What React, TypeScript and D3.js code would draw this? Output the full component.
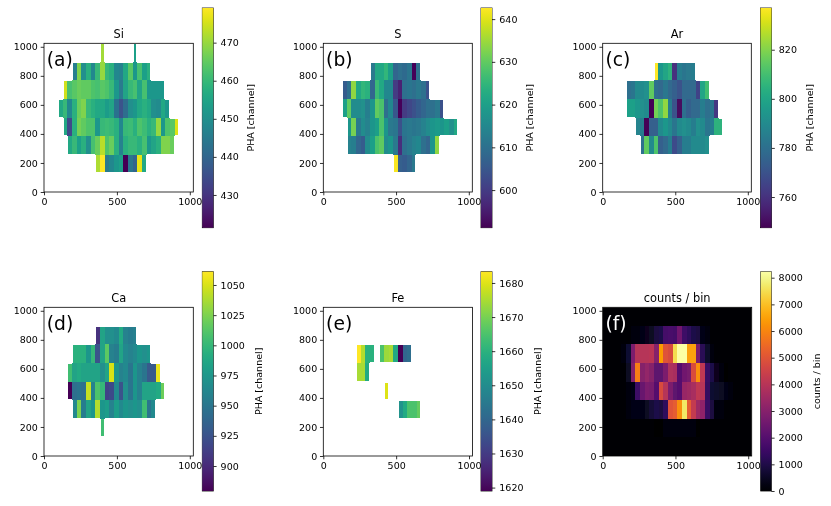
import { useEffect, useRef } from "react";
import * as d3 from "d3";

// each row of the detector map: y = bottom of the 128 bin, x = left of the first 32 bin
type Row = { y: number; x: number; v: (number | null)[] };

const siRows: Row[] = [
  { y: 896, x: 384, v: [471, null, null, null, null, null, null, 454] },
  { y: 768, x: 192, v: [446, 468, 450, 458, 448, 460, 470, 460, 458, 448, 447, 456, 464, 452, 462, 454, 458] },
  { y: 640, x: 128, v: [475, 462, 464, 466, 465, 465, 463, 462, 464, 463, 460, 452, 445, 455, 460, 462, 455, 462, 452, 452, 452, 452] },
  { y: 512, x: 96, v: [456, 460, 448, 458, 466, 468, 460, 458, 456, 456, 453, 455, 443, 436, 442, 450, 452, 456, 458, 456, 450, 449, 456, 452] },
  { y: 384, x: 128, v: [456, 434, 458, 467, 465, 463, 463, 452, 460, 461, 460, 458, 448, 460, 461, 458, 463, 461, 458, 460, 470, 452, 463, 464, 476] },
  { y: 256, x: 160, v: [456, 460, 454, 458, 450, 462, 466, 473, 463, 466, 458, 447, 458, 460, 460, 458, 462, 452, 455, 458, 468, 468, 466] },
  { y: 128, x: 352, v: [472, 479, 445, 448, 452, 454, 421, 444, 440, 477, 456] },
];

const sRows: Row[] = [
  { y: 768, x: 320, v: [612, 622, 622, 625, 620, 608, 610, 609, 611, 592, 610] },
  { y: 640, x: 128, v: [606, 610, 634, 622, 625, 624, 608, 626, 622, 615, 615, 600, 596, 610, 611, 610, 612, 610, 604] },
  { y: 512, x: 128, v: [620, 630, 616, 616, 617, 613, 618, 630, 628, 610, 615, 605, 592, 600, 602, 604, 606, 608, 610, 610, 612, 604] },
  { y: 384, x: 160, v: [618, 632, 612, 616, 614, 618, 620, 628, 618, 612, 611, 604, 611, 612, 611, 612, 614, 616, 618, 619, 618, 620, 617, 622] },
  { y: 256, x: 160, v: [614, 613, 608, 606, 616, 620, 628, 630, 616, 618, 612, 598, 610, 612, 614, 615, 610, 608, 618, 634] },
  { y: 128, x: 480, v: [642, 607, 606, 608, 612] },
];

const arRows: Row[] = [
  { y: 768, x: 352, v: [837, 795, 800, 805, 760, 785, 782, 784, 785] },
  { y: 640, x: 160, v: [780, 782, 790, 790, 792, 815, 780, 778, 783, 778, 775, 770, 778, 778, 778, 765, 800, 810] },
  { y: 512, x: 160, v: [798, 798, 795, 792, 790, 748, 818, 812, 822, 785, 770, 750, 780, 775, 778, 778, 785, 780, 782, 762] },
  { y: 384, x: 224, v: [788, 785, 748, 775, 775, 790, 795, 790, 782, 790, 792, 790, 785, 792, 790, 782, 785, 805, 805] },
  { y: 256, x: 256, v: [780, 815, 790, 812, 775, 778, 785, 768, 775, 785, 785, 790, 790, 790, 792] },
];

const caRows: Row[] = [
  { y: 768, x: 352, v: [905, 985, 970, 970, 965, 990, 960, 955, 958] },
  { y: 640, x: 192, v: [995, 995, 995, 975, 1000, 925, 985, 1015, 960, 955, 985, 965, 960, 965, 975, 970, 975] },
  { y: 512, x: 160, v: [1005, 985, 990, 985, 985, 985, 985, 970, 985, 1050, 975, 960, 965, 950, 975, 960, 950, 930, 930, 1055] },
  { y: 384, x: 160, v: [880, 945, 950, 945, 1045, 960, 1010, 1000, 915, 920, 965, 925, 970, 950, 975, 960, 985, 985, 985, 990, 1020] },
  { y: 256, x: 192, v: [965, 1025, 955, 985, 975, 1040, 975, 980, 960, 980, 965, 975, 970, 975, 970, 1005, 950, 965] },
  { y: 128, x: 384, v: [1005] },
];

const feRows: Row[] = [
  { y: 640, x: 224, v: [1684, 1676, 1660, 1660, null, 1665, 1674, 1675, 1658, 1619, 1640, 1642] },
  { y: 512, x: 224, v: [1675, 1675, 1658] },
  { y: 384, x: 416, v: [1680] },
  { y: 256, x: 512, v: [1652, 1658, 1665, 1665, 1668] },
];

const countRows: Row[] = [
  { y: 768, x: 192, v: [100, 200, 300, 400, 500, 900, 1000, 1700, 1800, 1700, 2600, 1600, 1300, 1000, 900, 300, 150] },
  { y: 640, x: 128, v: [200, 700, 2800, 4000, 4000, 4000, 4100, 3000, 6400, 5000, 4800, 7500, 8200, 8200, 6500, 6500, 2800, 1200, 600, 150] },
  { y: 512, x: 160, v: [500, 3000, 5900, 3000, 3300, 3000, 2200, 2200, 2800, 3800, 3700, 2000, 2600, 2700, 4800, 6200, 4200, 1500, 1000, 400, 150, 50] },
  { y: 384, x: 160, v: [150, 300, 1600, 2400, 2800, 2700, 2000, 4800, 4000, 2800, 2200, 2000, 3400, 3500, 3700, 4200, 4000, 1400, 700, 600, 500, 300, 100] },
  { y: 256, x: 160, v: [100, 300, 300, 300, 500, 800, 1000, 900, 1300, 5000, 5200, 6200, 7700, 5200, 4300, 3500, 3200, 1500, 900, 200, 100] },
  { y: 128, x: 352, v: [50, 80, 100, 120, 150, 200, 200, 150, 120, 80] },
];

const xTicks = [0, 500, 1000];
const yTicks = [0, 200, 400, 600, 800, 1000];
const BIN_X = 32;
const BIN_Y = 128;

const panels = [
  { tag: "(a)", title: "Si", rows: siRows, cmap: d3.interpolateViridis, domain: [421.4, 479.1], ticks: [430, 440, 450, 460, 470], cbLabel: "PHA [channel]", left: 44, right: 193.3, top: 43.3, bottom: 192, cbLeft: 202.3, cbRight: 213.3, cbTop: 8, cbBottom: 227.7, tagColor: "#000" },
  { tag: "(b)", title: "S", rows: sRows, cmap: d3.interpolateViridis, domain: [591.2, 642.6], ticks: [600, 610, 620, 630, 640], cbLabel: "PHA [channel]", left: 323.3, right: 472.3, top: 43.3, bottom: 192, cbLeft: 481, cbRight: 492, cbTop: 8, cbBottom: 227.7, tagColor: "#000" },
  { tag: "(c)", title: "Ar", rows: arRows, cmap: d3.interpolateViridis, domain: [747.5, 837], ticks: [760, 780, 800, 820], cbLabel: "PHA [channel]", left: 602.7, right: 751.3, top: 43.3, bottom: 192, cbLeft: 760.5, cbRight: 771.5, cbTop: 8, cbBottom: 227.7, tagColor: "#000" },
  { tag: "(d)", title: "Ca", rows: caRows, cmap: d3.interpolateViridis, domain: [879.3, 1061], ticks: [900, 925, 950, 975, 1000, 1025, 1050], cbLabel: "PHA [channel]", left: 44, right: 193.3, top: 307.3, bottom: 456, cbLeft: 202.3, cbRight: 213.3, cbTop: 271.7, cbBottom: 491, tagColor: "#000" },
  { tag: "(e)", title: "Fe", rows: feRows, cmap: d3.interpolateViridis, domain: [1619, 1683.3], ticks: [1620, 1630, 1640, 1650, 1660, 1670, 1680], cbLabel: "PHA [channel]", left: 323.3, right: 472.5, top: 307.3, bottom: 456, cbLeft: 481, cbRight: 492, cbTop: 271.7, cbBottom: 491, tagColor: "#000" },
  { tag: "(f)", title: "counts / bin", rows: countRows, cmap: d3.interpolateInferno, domain: [0, 8225], ticks: [0, 1000, 2000, 3000, 4000, 5000, 6000, 7000, 8000], cbLabel: "counts / bin", left: 602.7, right: 751.7, top: 307.3, bottom: 456, cbLeft: 760.7, cbRight: 771.3, cbTop: 271.7, cbBottom: 491, tagColor: "#fff", fill: true },
];

const FONT = "'DejaVu Sans', sans-serif";

const App = () => {
  const ref = useRef<SVGSVGElement | null>(null);

  useEffect(() => {
    const svg = d3.select(ref.current);
    svg.selectAll("*").remove();

    const defs = svg.append("defs");
    // the picture is a resampled raster: columns smear a little, rows stay sharp
    defs.append("filter").attr("id", "soft")
      .attr("x", "-5%").attr("y", "-5%").attr("width", "110%").attr("height", "110%")
      .append("feGaussianBlur").attr("stdDeviation", "0.55 0.2");
    defs.append("filter").attr("id", "textSoft")
      .attr("x", "-5%").attr("y", "-5%").attr("width", "110%").attr("height", "110%")
      .append("feGaussianBlur").attr("stdDeviation", 0.25);

    panels.forEach((p, idx) => {
      const x = d3.scaleLinear().domain([0, 1024]).range([p.left, p.right]);
      const y = d3.scaleLinear().domain([0, 1024]).range([p.bottom, p.top]);
      const color = d3.scaleSequential(p.cmap).domain(p.domain as [number, number]);

      defs.append("clipPath").attr("id", `clip${idx}`)
        .append("rect")
        .attr("x", p.left).attr("y", p.top)
        .attr("width", p.right - p.left).attr("height", p.bottom - p.top);

      const clipped = svg.append("g").attr("clip-path", `url(#clip${idx})`);
      if (p.fill) {
        clipped.append("rect")
          .attr("x", p.left).attr("y", p.top)
          .attr("width", p.right - p.left).attr("height", p.bottom - p.top)
          .attr("fill", color(0));
      }

      // flatten rows to cells
      const cells = p.rows.flatMap((r) =>
        r.v.flatMap((v, i) => (v === null ? [] : [{ x: r.x + i * BIN_X, y: r.y, v }]))
      );
      const has = new Set(cells.map((c) => `${c.x}:${c.y}`));
      const inset = p.fill ? 0 : 1; // resampled image fades into the empty bins

      clipped.append("g").attr("filter", "url(#soft)").attr("shape-rendering", "crispEdges")
        .selectAll("rect").data(cells).join("rect")
        .attr("x", (c) => x(c.x) + (has.has(`${c.x - BIN_X}:${c.y}`) ? 0 : inset))
        .attr("y", (c) => y(c.y + BIN_Y) + (has.has(`${c.x}:${c.y + BIN_Y}`) ? 0 : inset))
        .attr("width", (c) => x(c.x + BIN_X) - x(c.x)
          - (has.has(`${c.x - BIN_X}:${c.y}`) ? 0 : inset)
          - (has.has(`${c.x + BIN_X}:${c.y}`) ? 0 : inset))
        .attr("height", (c) => y(c.y) - y(c.y + BIN_Y)
          - (has.has(`${c.x}:${c.y + BIN_Y}`) ? 0 : inset)
          - (has.has(`${c.x}:${c.y - BIN_Y}`) ? 0 : inset))
        .attr("fill", (c) => color(c.v));

      const ink = svg.append("g").attr("filter", "url(#textSoft)");

      // axes
      const xAxis = ink.append("g")
        .attr("transform", `translate(0,${p.bottom})`)
        .call(d3.axisBottom(x).tickValues(xTicks).tickFormat(d3.format("d")).tickSize(3.3).tickPadding(2.8));
      const yAxis = ink.append("g")
        .attr("transform", `translate(${p.left},0)`)
        .call(d3.axisLeft(y).tickValues(yTicks).tickFormat(d3.format("d")).tickSize(3.3).tickPadding(2.8));
      [xAxis, yAxis].forEach((a) => {
        a.select(".domain").remove();
        a.selectAll("line").attr("stroke", "#000").attr("stroke-width", 0.8);
        a.selectAll("text").attr("font-family", FONT).attr("font-size", 9.5).attr("fill", "#000");
      });

      ink.append("rect")
        .attr("x", p.left).attr("y", p.top)
        .attr("width", p.right - p.left).attr("height", p.bottom - p.top)
        .attr("fill", "none").attr("stroke", "#000").attr("stroke-width", 0.8);

      ink.append("text")
        .attr("x", (p.left + p.right) / 2).attr("y", p.top - 5)
        .attr("text-anchor", "middle")
        .attr("font-family", FONT).attr("font-size", 11.4)
        .text(p.title);

      ink.append("text")
        .attr("x", p.left + 2.8).attr("y", p.top + 22.5)
        .attr("font-family", FONT).attr("font-size", 18.7).attr("fill", p.tagColor)
        .text(p.tag);

      // colorbar
      const cb = d3.scaleLinear().domain(p.domain).range([p.cbBottom, p.cbTop]);
      const grad = defs.append("linearGradient").attr("id", `cbar${idx}`)
        .attr("x1", 0).attr("y1", 1).attr("x2", 0).attr("y2", 0);
      d3.range(0, 33).forEach((s) => {
        grad.append("stop").attr("offset", s / 32).attr("stop-color", p.cmap(s / 32));
      });
      svg.append("rect")
        .attr("x", p.cbLeft).attr("y", p.cbTop)
        .attr("width", p.cbRight - p.cbLeft).attr("height", p.cbBottom - p.cbTop)
        .attr("fill", `url(#cbar${idx})`);

      ink.append("rect")
        .attr("x", p.cbLeft).attr("y", p.cbTop)
        .attr("width", p.cbRight - p.cbLeft).attr("height", p.cbBottom - p.cbTop)
        .attr("fill", "none").attr("stroke", "#000").attr("stroke-width", 0.8);

      const cbAxis = ink.append("g")
        .attr("transform", `translate(${p.cbRight},0)`)
        .call(d3.axisRight(cb).tickValues(p.ticks).tickFormat(d3.format("d")).tickSize(3.3).tickPadding(4));
      cbAxis.select(".domain").remove();
      cbAxis.selectAll("line").attr("stroke", "#000").attr("stroke-width", 0.8);
      cbAxis.selectAll("text").attr("font-family", FONT).attr("font-size", 9.5).attr("fill", "#000");

      const labelX = p.cbRight + (p.ticks[p.ticks.length - 1] >= 1000 ? 46 : 38.5);
      const labelY = (p.cbTop + p.cbBottom) / 2;
      ink.append("text")
        .attr("transform", `translate(${labelX},${labelY}) rotate(-90)`)
        .attr("text-anchor", "middle").attr("dominant-baseline", "middle")
        .attr("font-family", FONT).attr("font-size", 9.5)
        .text(p.cbLabel);
    });
  }, []);

  return <svg ref={ref} width={831} height={506} style={{ position: "absolute", left: 0, top: 0 }} />;
};

export default App;
